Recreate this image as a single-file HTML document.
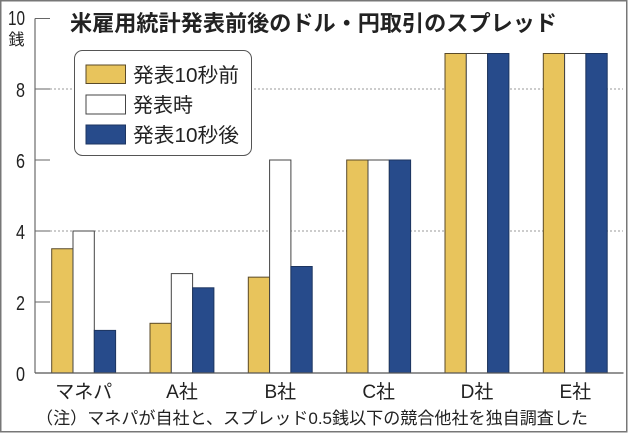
<!DOCTYPE html>
<html><head><meta charset="utf-8"><style>
html,body{margin:0;padding:0;background:#fff;}
svg{display:block;}
text{font-family:"Liberation Sans","Noto Sans CJK JP",sans-serif;fill:#222;}
</style></head><body>
<svg width="630" height="434" viewBox="0 0 630 434" xmlns="http://www.w3.org/2000/svg">
<rect x="0.75" y="0.75" width="626" height="431" fill="#fff" stroke="#777" stroke-width="1.5"/>
<!-- gridlines -->
<line x1="50" y1="231" x2="623" y2="231" stroke="#999" stroke-width="1" stroke-dasharray="2,2"/>
<line x1="50" y1="89" x2="623" y2="89" stroke="#999" stroke-width="1" stroke-dasharray="2,2"/>
<!-- axis -->
<line x1="35" y1="18.5" x2="35" y2="373" stroke="#888" stroke-width="1.5"/>
<g stroke="#666" stroke-width="1">
<line x1="35" y1="18.5" x2="50" y2="18.5"/>
<line x1="35" y1="89" x2="50" y2="89"/>
<line x1="35" y1="160" x2="50" y2="160"/>
<line x1="35" y1="231" x2="50" y2="231"/>
<line x1="35" y1="302" x2="50" y2="302"/>
</g>
<!-- bars -->
<g stroke-width="1">
<!-- マネパ -->
<rect x="51.7" y="248.75" width="21.3" height="124.25" fill="#e8c45c" stroke="#5a4a28"/>
<rect x="73" y="231" width="21.3" height="142" fill="#fff" stroke="#444"/>
<rect x="94.3" y="330.4" width="21.3" height="42.6" fill="#274b8b" stroke="#1d3560"/>
<!-- A -->
<rect x="150" y="323.3" width="21.3" height="49.7" fill="#e8c45c" stroke="#5a4a28"/>
<rect x="171.3" y="273.6" width="21.3" height="99.4" fill="#fff" stroke="#444"/>
<rect x="192.6" y="287.8" width="21.3" height="85.2" fill="#274b8b" stroke="#1d3560"/>
<!-- B -->
<rect x="248.3" y="277.15" width="21.3" height="95.85" fill="#e8c45c" stroke="#5a4a28"/>
<rect x="269.6" y="160" width="21.3" height="213" fill="#fff" stroke="#444"/>
<rect x="290.9" y="266.5" width="21.3" height="106.5" fill="#274b8b" stroke="#1d3560"/>
<!-- C -->
<rect x="346.7" y="160" width="21.3" height="213" fill="#e8c45c" stroke="#5a4a28"/>
<rect x="368" y="160" width="21.3" height="213" fill="#fff" stroke="#444"/>
<rect x="389.3" y="160" width="21.3" height="213" fill="#274b8b" stroke="#1d3560"/>
<!-- D -->
<rect x="445" y="53.5" width="21.3" height="319.5" fill="#e8c45c" stroke="#5a4a28"/>
<rect x="466.3" y="53.5" width="21.3" height="319.5" fill="#fff" stroke="#444"/>
<rect x="487.6" y="53.5" width="21.3" height="319.5" fill="#274b8b" stroke="#1d3560"/>
<!-- E -->
<rect x="543.3" y="53.5" width="21.3" height="319.5" fill="#e8c45c" stroke="#5a4a28"/>
<rect x="564.6" y="53.5" width="21.3" height="319.5" fill="#fff" stroke="#444"/>
<rect x="585.9" y="53.5" width="21.3" height="319.5" fill="#274b8b" stroke="#1d3560"/>
</g>
<!-- baseline -->
<line x1="35" y1="373" x2="623.5" y2="373" stroke="#555" stroke-width="1.2"/>
<!-- y labels -->
<g font-size="20" text-anchor="end">
<text x="25" y="25" textLength="17" lengthAdjust="spacingAndGlyphs">10</text>
<text x="25" y="97" textLength="9" lengthAdjust="spacingAndGlyphs">8</text>
<text x="25" y="168" textLength="9" lengthAdjust="spacingAndGlyphs">6</text>
<text x="25" y="239" textLength="9" lengthAdjust="spacingAndGlyphs">4</text>
<text x="25" y="310" textLength="9" lengthAdjust="spacingAndGlyphs">2</text>
<text x="25" y="381" textLength="9" lengthAdjust="spacingAndGlyphs">0</text>
</g>
<text x="16.5" y="45" font-size="16" text-anchor="middle">銭</text>
<!-- title -->
<text x="70" y="31" font-size="22" font-weight="bold" textLength="487" lengthAdjust="spacingAndGlyphs">米雇用統計発表前後のドル・円取引のスプレッド</text>
<!-- legend -->
<rect x="74.5" y="50.5" width="177" height="105" rx="8" ry="8" fill="#fff" stroke="#555" stroke-width="1"/>
<rect x="86" y="65" width="39.5" height="18.5" fill="#e8c45c" stroke="#5a4a28" stroke-width="1"/>
<rect x="86" y="95" width="39.5" height="19" fill="#fff" stroke="#444" stroke-width="1"/>
<rect x="86" y="125" width="39.5" height="19" fill="#274b8b" stroke="#1d3560" stroke-width="1"/>
<g font-size="20">
<text x="133" y="82" textLength="106" lengthAdjust="spacingAndGlyphs">発表10秒前</text>
<text x="133" y="112">発表時</text>
<text x="133" y="142" textLength="106" lengthAdjust="spacingAndGlyphs">発表10秒後</text>
</g>
<!-- x labels -->
<g font-size="19" text-anchor="middle">
<text x="83.7" y="398">マネパ</text>
<text x="182" y="398">A社</text>
<text x="280.3" y="398">B社</text>
<text x="378.7" y="398">C社</text>
<text x="477" y="398">D社</text>
<text x="575.3" y="398">E社</text>
</g>
<!-- footnote -->
<text x="36" y="424" font-size="17" textLength="552" lengthAdjust="spacingAndGlyphs">（注）マネパが自社と、スプレッド0.5銭以下の競合他社を独自調査した</text>
</svg>
</body></html>
